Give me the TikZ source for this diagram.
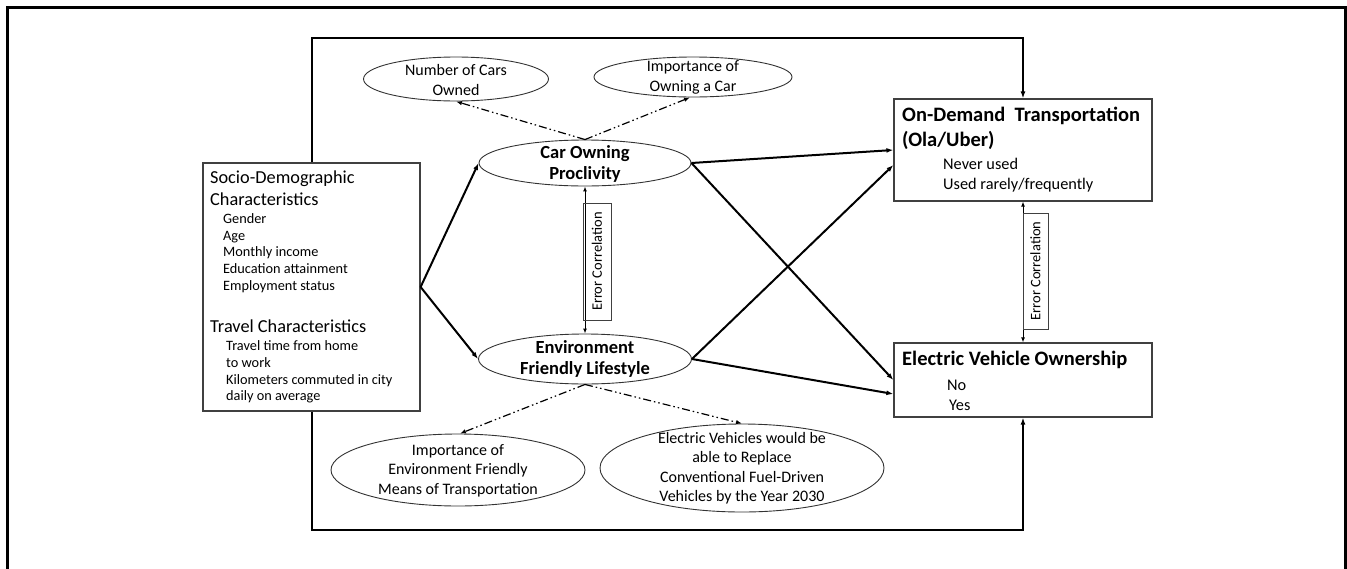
\documentclass[tikz,border=0pt]{standalone}
\usepackage{fontspec}
\setmainfont{Carlito}
\usetikzlibrary{shapes.geometric,arrows.meta}
\begin{document}
\begin{tikzpicture}[x=1pt,y=-1pt,
  boxnode/.style={draw=black!75, line width=1.2pt, rectangle, inner sep=0},
  ell/.style={draw=black!80, line width=0.9pt, ellipse, inner sep=0},
  txt/.style={anchor=base west, inner sep=0, font=\fontsize{14.3}{17}\selectfont},
  rtxt/.style={anchor=base west, inner sep=0, font=\fontsize{16.3}{19}\selectfont},
  head/.style={anchor=base west, inner sep=0, font=\fontsize{18.3}{22}\selectfont},
  bhead/.style={anchor=base west, inner sep=0, font=\bfseries\fontsize{20.5}{24}\selectfont},
  etxt/.style={align=center, inner sep=0, font=\fontsize{16}{19.5}\selectfont},
  btxt/.style={align=center, inner sep=0, font=\bfseries\fontsize{18.5}{21}\selectfont},
  strong/.style={line width=2pt, -{Latex[length=7pt,width=5pt]}},
  dd/.style={line width=1.2pt, dash pattern=on 8pt off 3pt on 1.5pt off 3pt on 1.5pt off 3pt, -{Latex[length=6pt,width=4.5pt]}},
  ecbox/.style={draw=black!75, line width=1pt, rotate=90, inner sep=0, font=\fontsize{14.5}{17}\selectfont},
  corr/.style={line width=1pt, {Latex[length=5pt,width=4pt]}-{Latex[length=5pt,width=4pt]}}
]
\useasboundingbox (0,0) rectangle (1347,568);
% outer frame
\draw[line width=3pt] (7,570) -- (7,7) -- (1345,7) -- (1345,570);

% boxes
\node[boxnode, minimum width=217, minimum height=248] (socio) at (311.5,287) {};
\node[boxnode, minimum width=258, minimum height=102] (od) at (1023,150) {};
\node[boxnode, minimum width=258, minimum height=74] (ev) at (1023,380) {};

% socio text
\node[head] (s1) at (210,183) {Socio-Demographic};
\node[head] (s2) at (210,205) {Characteristics};
\node[txt] (s3) at (223,223) {Gender};
\node[txt] (s4) at (223,240) {Age};
\node[txt] (s5) at (223,256) {Monthly income};
\node[txt] (s6) at (223,273) {Education attainment};
\node[txt] (s7) at (223,290) {Employment status};
\node[head] (t1) at (210,332) {Travel Characteristics};
\node[txt] (t2) at (226,350) {Travel time from home};
\node[txt] (t3) at (226,367) {to work};
\node[txt] (t4) at (226,384) {Kilometers commuted in city};
\node[txt] (t5) at (226,400) {daily on average};

% od text
\node[bhead] (o1) at (902,121) {On-Demand\ \ Transportation};
\node[bhead] (o2) at (902,146) {(Ola/Uber)};
\node[rtxt] (o3) at (943,169) {Never used};
\node[rtxt] (o4) at (943,189) {Used rarely/frequently};

% ev text
\node[bhead] (e1) at (902,365) {Electric Vehicle Ownership};
\node[rtxt] (e2) at (947,390) {No};
\node[rtxt] (e3) at (949,410) {Yes};

% ellipses
\node[ell, minimum width=185, minimum height=44] (nc) at (456,79) {};
\node[etxt] (nct) at (456,80) {Number of Cars\\Owned};
\node[ell, minimum width=198, minimum height=40] (io) at (693,77) {};
\node[etxt] (iot) at (693,77.5) {Importance of\\Owning a Car};
\node[ell, minimum width=212, minimum height=46] (car) at (585,163) {};
\node[btxt] (cart) at (585,164) {Car Owning\\Proclivity};
\node[ell, minimum width=213, minimum height=50] (env) at (585,359) {};
\node[btxt] (envt) at (585,358.5) {Environment\\Friendly Lifestyle};
\node[ell, minimum width=254, minimum height=72] (ie) at (458,470) {};
\node[etxt] (iet) at (458,470.5) {Importance of\\Environment Friendly\\Means of Transportation};
\node[ell, minimum width=284, minimum height=88] (evr) at (742,468) {};
\node[etxt] (evrt) at (742,468) {Electric Vehicles would be\\able to Replace\\Conventional Fuel-Driven\\Vehicles by the Year 2030};

% error correlation
\draw[corr] (car.south) -- (env.north);
\node[ecbox, minimum width=117, minimum height=28] (ec1) at (597,261.5) {Error Correlation};
\draw[corr] (od.south) -- (ev.north);
\node[ecbox, minimum width=116, minimum height=25] (ec2) at (1035.5,271) {Error Correlation};

% loop connectors
\coordinate (tr) at (1023,38);
\coordinate (br) at (1023,530);
\draw[strong] (socio.north) |- (tr) -- (od.north);
\draw[strong] (socio.south) |- (br) -- (ev.south);

% main arrows
\draw[strong] (socio.east) -- (car.west);
\draw[strong] (socio.east) -- (env.west);
\draw[strong] (car.east) -- (od.west);
\draw[strong] (car.east) -- (ev.west);
\draw[strong] (env.east) -- ([yshift=-15pt]od.west);
\draw[strong] (env.east) -- ([yshift=-14pt]ev.west);

% indicator arrows
\draw[dd] (car.north) -- (nc.south);
\draw[dd] (car.north) -- ([xshift=-3pt]io.south);
\draw[dd] (env.south) -- ([xshift=2pt]ie.north);
\draw[dd] (env.south) -- (evr.north);
\end{tikzpicture}
\end{document}
